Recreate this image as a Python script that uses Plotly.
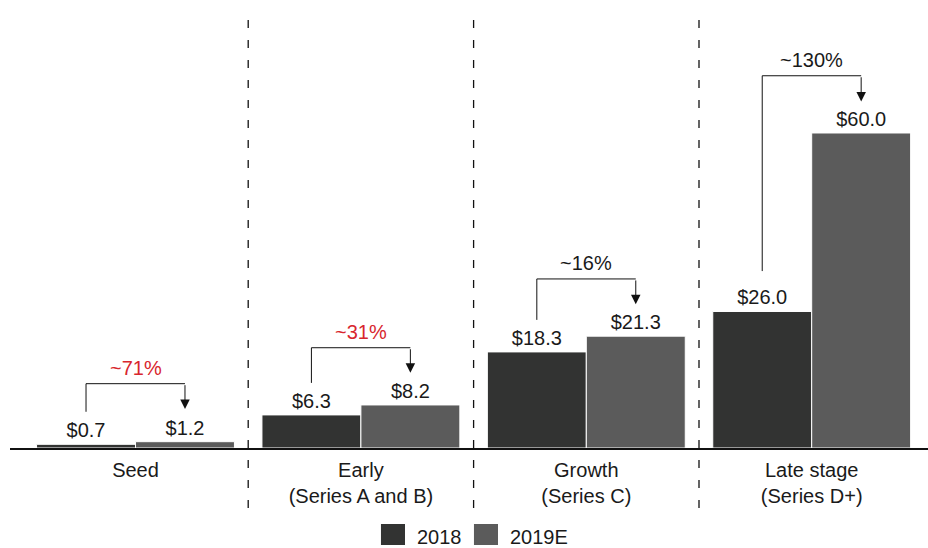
import plotly.graph_objects as go

# Venture funding by stage, $B
stages = ["Seed", "Early<br>(Series A and B)", "Growth<br>(Series C)", "Late stage<br>(Series D+)"]
funding_2018 = [0.7, 6.3, 18.3, 26.0]
funding_2019e = [1.2, 8.2, 21.3, 60.0]
growth_labels = ["~71%", "~31%", "~16%", "~130%"]
growth_colors = ["#d8262e", "#d8262e", "#1a1a1a", "#1a1a1a"]

DARK = "#323332"
MID = "#5b5b5b"
TEXT = "#1a1a1a"
FONT = "Liberation Sans, Arial, sans-serif"

x_pos = list(range(len(stages)))
half = 0.2195  # centre offset of each bar within a group

# bracket geometry per stage (data units): left-leg bottom, bracket top, arrow tip
bracket_left = [6.9, 12.4, 24.4, 33.7]
bracket_top = [12.25, 19.1, 32.2, 70.9]
bracket_tip = [7.45, 14.35, 27.4, 66.0]
label_gap = 3.0

fig = go.Figure()
fig.add_bar(x=x_pos, y=funding_2018, name="2018", marker=dict(color=DARK, line=dict(color="white", width=1)),
            texttemplate="$%{y:.1f}", textposition="outside", cliponaxis=False,
            textfont=dict(size=20, color=TEXT, family=FONT))
fig.add_bar(x=x_pos, y=funding_2019e, name="2019E", marker=dict(color=MID, line=dict(color="white", width=1)),
            texttemplate="$%{y:.1f}", textposition="outside", cliponaxis=False,
            textfont=dict(size=20, color=TEXT, family=FONT))

shapes = []
annotations = []

# dashed separators between stages
for i in range(len(stages) - 1):
    shapes.append(dict(type="line", xref="x", yref="paper", x0=i + 0.5, x1=i + 0.5, y0=-0.134, y1=0.967,
                       line=dict(color="#111111", width=1.3, dash="8px,12px")))

# growth brackets
for i in x_pos:
    xl, xr = i - half, i + half
    shapes.append(dict(type="path", xref="x", yref="y",
                       path=f"M{xl},{bracket_left[i]} L{xl},{bracket_top[i]} L{xr},{bracket_top[i]}",
                       line=dict(color="#111111", width=1)))
    annotations.append(dict(x=xr, y=bracket_tip[i], ax=xr, ay=bracket_top[i], axref="x", ayref="y",
                            xref="x", yref="y", text="", showarrow=True, arrowhead=2, arrowsize=1.9,
                            arrowwidth=1, arrowcolor="#111111", standoff=0))
    annotations.append(dict(x=i, y=bracket_top[i] + label_gap, xref="x", yref="y", text=growth_labels[i],
                            showarrow=False, font=dict(size=20, color=growth_colors[i], family=FONT)))

# legend swatches
legend_items = [("2018", DARK, 0.4041, 0.4303, 0.4412), ("2019E", MID, 0.5054, 0.5316, 0.5428)]
for name, color, x0, x1, xt in legend_items:
    shapes.append(dict(type="rect", xref="paper", yref="paper", x0=x0, x1=x1, y0=-0.2165, y1=-0.1696,
                       fillcolor=color, line=dict(width=0)))
    annotations.append(dict(x=xt, y=-0.1987, xref="paper", yref="paper", text=name, showarrow=False,
                            xanchor="left", yanchor="middle", font=dict(size=20, color=TEXT, family=FONT)))

fig.update_layout(
    width=928, height=548,
    margin=dict(l=10, r=0, t=0, b=100),
    paper_bgcolor="white", plot_bgcolor="white",
    barmode="group", bargap=0.122, bargroupgap=0,
    showlegend=False,
    font=dict(family=FONT, size=20, color=TEXT),
    shapes=shapes, annotations=annotations,
    xaxis=dict(range=[-0.5568, 3.516], tickvals=x_pos, ticktext=stages, showgrid=False, zeroline=False,
               showline=True, linecolor="#111111", linewidth=2, ticks="outside", ticklen=3,
               tickcolor="rgba(0,0,0,0)", tickfont=dict(size=20, color=TEXT, family=FONT)),
    yaxis=dict(range=[0, 85.33], showgrid=False, zeroline=False, showline=False, showticklabels=False),
)

fig.write_html("out.html")
